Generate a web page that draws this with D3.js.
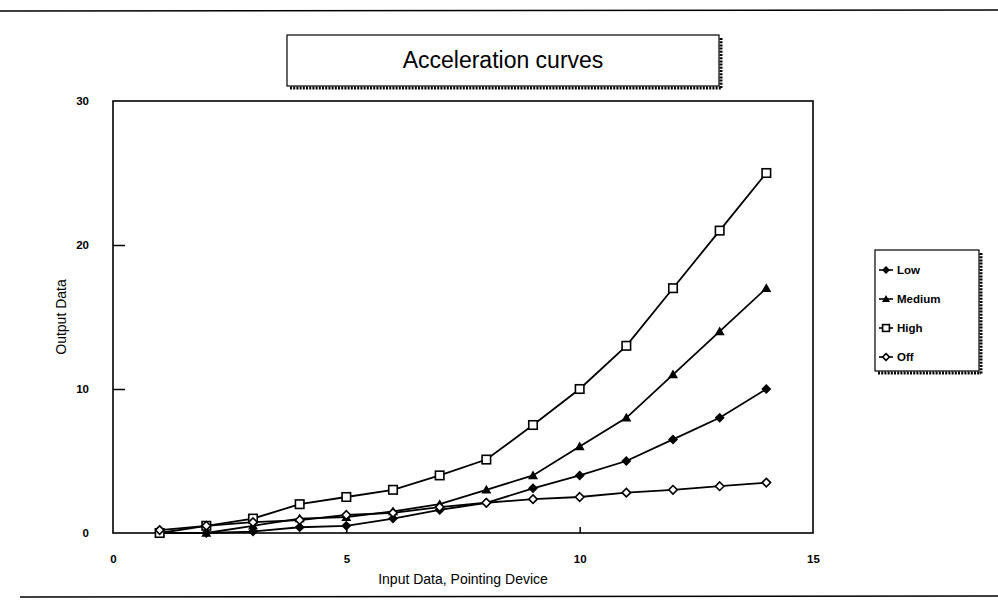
<!DOCTYPE html>
<html>
<head>
<meta charset="utf-8">
<script src="https://cdn.jsdelivr.net/npm/d3@7"></script>
<style>
  body { margin: 0; background: #fff; }
  svg { display: block; font-family: "Liberation Sans", Arial, sans-serif; }
</style>
</head>
<body>
<div id="chart"></div>
<script>
// values
const inputs = [1, 2, 3, 4, 5, 6, 7, 8, 9, 10, 11, 12, 13, 14];
const low    = [0, 0, 0.1, 0.4, 0.5, 1.0, 1.6, 2.1, 3.1, 4.0, 5.0, 6.5, 8.0, 10.0];
const medium = [0, 0, 0.5, 1.0, 1.1, 1.5, 2.0, 3.0, 4.0, 6.0, 8.0, 11.0, 14.0, 17.0];
const high   = [0, 0.5, 1.0, 2.0, 2.5, 3.0, 4.0, 5.1, 7.5, 10.0, 13.0, 17.0, 21.0, 25.0];
const off    = [0.2, 0.5, 0.75, 0.9, 1.25, 1.4, 1.8, 2.1, 2.35, 2.5, 2.8, 3.0, 3.25, 3.5];
const seriesNames = ['Low', 'Medium', 'High', 'Off'];
const seriesValues = [low, medium, high, off];
const xTicks = [0, 5, 10, 15];
const yTicks = [0, 10, 20, 30];

const width = 998, height = 608;
const margin = { left: 113, top: 101, right: 185, bottom: 75 };

const svg = d3.select('#chart').append('svg')
    .attr('width', width)
    .attr('height', height);

// page rules top and bottom
svg.append('line').attr('x1', 0).attr('x2', width).attr('y1', 11).attr('y2', 10)
    .attr('stroke', '#000').attr('stroke-width', 1.5);
svg.append('line').attr('x1', 20).attr('x2', width).attr('y1', 597).attr('y2', 596)
    .attr('stroke', '#000').attr('stroke-width', 1.5);

const x = d3.scaleLinear().domain([0, 15]).range([margin.left, width - margin.right]);
const y = d3.scaleLinear().domain([0, 30]).range([height - margin.bottom, margin.top]);

// box with hatched drop shadow
function shadowBox(x0, y0, w, h) {
    const g = svg.append('g');
    g.append('line').attr('x1', x0 + 3).attr('x2', x0 + w + 2).attr('y1', y0 + h + 2).attr('y2', y0 + h + 2)
        .attr('stroke', '#000').attr('stroke-width', 3).attr('stroke-dasharray', '2,1.2');
    g.append('line').attr('x1', x0 + w + 2).attr('x2', x0 + w + 2).attr('y1', y0 + 3).attr('y2', y0 + h + 3)
        .attr('stroke', '#000').attr('stroke-width', 3).attr('stroke-dasharray', '2,1.2');
    g.append('rect').attr('x', x0).attr('y', y0).attr('width', w).attr('height', h)
        .attr('fill', '#fff').attr('stroke', '#000').attr('stroke-width', 1.2);
    return g;
}

// title
shadowBox(287, 35, 432, 51);
svg.append('text')
    .attr('x', 503).attr('y', 68)
    .attr('text-anchor', 'middle')
    .attr('font-size', 23)
    .text('Acceleration curves');

// plot frame
svg.append('rect')
    .attr('x', x(0)).attr('y', y(30))
    .attr('width', x(15) - x(0)).attr('height', y(0) - y(30))
    .attr('fill', 'none').attr('stroke', '#000').attr('stroke-width', 1.6);

// axes
const yAxis = d3.axisLeft(y).tickValues(yTicks).tickSize(-12).tickPadding(24);
const gy = svg.append('g').attr('transform', `translate(${x(0)},0)`).call(yAxis);
const xAxis = d3.axisBottom(x).tickValues(xTicks).tickSize(-6).tickPadding(22);
const gx = svg.append('g').attr('transform', `translate(0,${y(0)})`).call(xAxis);
[gy, gx].forEach(g => {
    g.select('.domain').remove();
    g.selectAll('.tick line').attr('stroke', '#000').attr('stroke-width', 1.5);
    g.selectAll('.tick text')
        .attr('fill', '#000')
        .attr('font-size', 11.5)
        .attr('font-weight', 'bold')
        .attr('font-family', '"Liberation Sans", Arial, sans-serif');
});
gy.selectAll('.tick line').filter(d => d === 0 || d === 30).remove();
gx.selectAll('.tick line').filter(d => d === 0 || d === 15).remove();

// axis titles
svg.append('text')
    .attr('transform', `translate(66,${(y(0) + y(30)) / 2}) rotate(-90)`)
    .attr('text-anchor', 'middle')
    .attr('font-size', 14)
    .text('Output Data');
svg.append('text')
    .attr('x', 463).attr('y', 584)
    .attr('text-anchor', 'middle')
    .attr('font-size', 14)
    .text('Input Data, Pointing Device');

// markers
function drawMarker(g, name, cx, cy, size) {
    const s = size;
    if (name === 'Low') {
        g.append('path')
            .attr('d', `M${cx},${cy - s}L${cx + s},${cy}L${cx},${cy + s}L${cx - s},${cy}Z`)
            .attr('fill', '#000');
    } else if (name === 'Off') {
        const t = s * 0.85;
        g.append('path')
            .attr('d', `M${cx},${cy - t}L${cx + t},${cy}L${cx},${cy + t}L${cx - t},${cy}Z`)
            .attr('fill', '#fff').attr('stroke', '#000').attr('stroke-width', 1.6);
    } else if (name === 'Medium') {
        g.append('path')
            .attr('d', `M${cx},${cy - s}L${cx + s},${cy + s * 0.75}L${cx - s},${cy + s * 0.75}Z`)
            .attr('fill', '#000');
    } else {
        const h = s * 0.85;
        g.append('rect')
            .attr('x', cx - h).attr('y', cy - h).attr('width', 2 * h).attr('height', 2 * h)
            .attr('fill', '#fff').attr('stroke', '#000').attr('stroke-width', 1.6);
    }
}

const line = d3.line()
    .x((d, i) => x(inputs[i]))
    .y(d => y(d));

seriesNames.forEach((name, k) => {
    const vals = seriesValues[k];
    const g = svg.append('g');
    g.append('path')
        .attr('d', line(vals))
        .attr('fill', 'none')
        .attr('stroke', '#000')
        .attr('stroke-width', 1.8);
    vals.forEach((v, i) => drawMarker(g, name, x(inputs[i]), y(v), 5));
});

// legend
const legendX = 875, legendY = 250;
shadowBox(legendX, legendY, 104, 121);
seriesNames.forEach((name, k) => {
    const ly = legendY + 20 + k * 29;
    svg.append('line')
        .attr('x1', legendX + 4).attr('x2', legendX + 18)
        .attr('y1', ly).attr('y2', ly)
        .attr('stroke', '#000').attr('stroke-width', 1.6);
    drawMarker(svg, name, legendX + 11, ly, 4);
    svg.append('text')
        .attr('x', legendX + 22).attr('y', ly + 4)
        .attr('font-size', 11.5)
        .attr('font-weight', 'bold')
        .text(name);
});
</script>
</body>
</html>
